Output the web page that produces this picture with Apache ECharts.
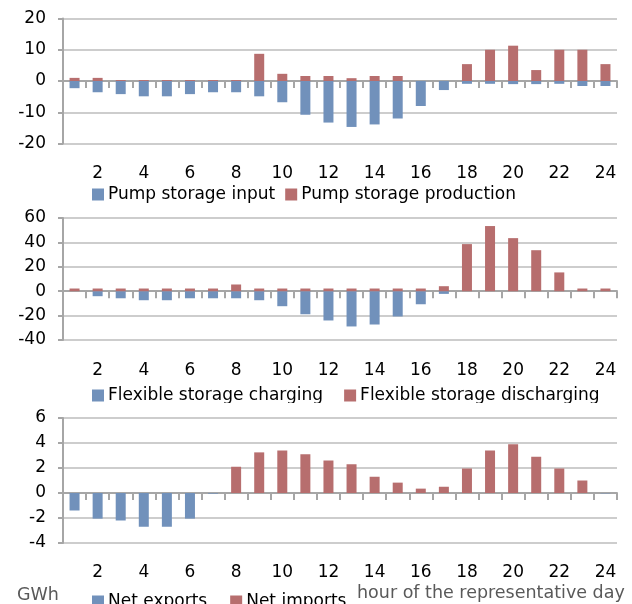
<!DOCTYPE html>
<html>
<head>
<meta charset="utf-8">
<script src="https://cdn.jsdelivr.net/npm/echarts@6/dist/echarts.min.js"></script>
<style>
html,body{margin:0;padding:0;background:#fff;}
#chart{width:632px;height:604px;}
</style>
</head>
<body>
<div id="chart"></div>
<script>
const hours = ['1','2','3','4','5','6','7','8','9','10','11','12','13','14','15','16','17','18','19','20','21','22','23','24'];

const pumpInput = [-2.3,-3.6,-4.2,-4.9,-4.9,-4.2,-3.6,-3.6,-4.9,-6.8,-10.8,-13.3,-14.7,-13.9,-12.0,-8.0,-2.9,-0.9,-0.9,-1.0,-1.0,-0.9,-1.6,-1.6];
const pumpProduction = [1.0,1.0,0.3,0.3,0.3,0.3,0.3,0.3,8.7,2.3,1.6,1.6,0.9,1.6,1.6,0,0,5.4,10.0,11.3,3.5,10.0,10.0,5.4];

const flexCharging = [0,-4.1,-5.8,-7.4,-7.4,-5.8,-5.8,-5.8,-7.4,-12.3,-18.9,-24.0,-28.9,-27.3,-20.7,-10.7,-2.2,0,0,0,0,0,0,0];
const flexDischarging = [2.2,2.2,2.2,2.2,2.2,2.2,2.2,5.5,2.2,2.2,2.2,2.2,2.2,2.2,2.2,2.2,4.1,38.6,53.4,43.5,33.6,15.4,2.2,2.2];

const netExports = [-1.4,-2.05,-2.2,-2.7,-2.7,-2.05,-0.05,0,0,0,0,0,0,0,0,0,0,0,0,0,0,0,0,-0.03];
const netImports = [0,0,0,0,0,0,0,2.1,3.25,3.4,3.1,2.6,2.3,1.3,0.83,0.35,0.5,1.96,3.4,3.9,2.9,1.96,1.0,0];

const seriesNames = [
  ['Pump storage input','Pump storage production'],
  ['Flexible storage charging','Flexible storage discharging'],
  ['Net exports','Net imports']
];
const yRanges = [[-20,20,10],[-40,60,20],[-4,6,2]];
const panelData = [[pumpInput,pumpProduction],[flexCharging,flexDischarging],[netExports,netImports]];

const BLUE = '#7191bb';
const RED = '#b76e6e';
const FONT = 'DejaVu Sans';

const gridPos = [
  {top:18.5, height:125},
  {top:218, height:122},
  {top:418, height:125}
];
const legendTops = [186, 387, 593];
const legendGaps = [10, 21, 23];
const labelMargins = [22, 22, 21];

const grids = [], xAxes = [], yAxes = [], series = [], legends = [];
for (let p = 0; p < 3; p++) {
  grids.push({left:63, right:15, top:gridPos[p].top, height:gridPos[p].height});
  // label axis at bottom
  xAxes.push({
    type:'category', gridIndex:p, data:hours, position:'bottom',
    axisLine:{show:false, onZero:false}, axisTick:{show:false},
    axisLabel:{color:'#000', fontFamily:FONT, fontSize:17, margin:labelMargins[p],
      interval:function(i){return i % 2 === 1;}},
    splitLine:{show:false}
  });
  // zero line axis with ticks
  xAxes.push({
    type:'category', gridIndex:p, data:hours, position:'bottom',
    axisLine:{show:true, onZero:true, lineStyle:{color:'#a6a6a6', width:2}},
    axisTick:{show:true, length:7, lineStyle:{color:'#a6a6a6', width:2}},
    axisLabel:{show:false}, splitLine:{show:false}
  });
  yAxes.push({
    type:'value', gridIndex:p, min:yRanges[p][0], max:yRanges[p][1], interval:yRanges[p][2],
    axisLine:{show:true, lineStyle:{color:'#a6a6a6', width:2}},
    axisTick:{show:true, length:5, lineStyle:{color:'#a6a6a6', width:2}},
    axisLabel:{color:'#000', fontFamily:FONT, fontSize:17, margin:17},
    splitLine:{show:true, lineStyle:{color:'#cdcdcd', width:2}}
  });
  for (let s = 0; s < 2; s++) {
    series.push({
      name:seriesNames[p][s], type:'bar', xAxisIndex:p*2, yAxisIndex:p,
      stack:'st'+p, barWidth:10, data:panelData[p][s],
      itemStyle:{color: s === 0 ? BLUE : RED},
      emphasis:{disabled:true}, animation:false
    });
  }
  legends.push({
    data:seriesNames[p], left:92, top:legendTops[p], itemWidth:12, itemHeight:12,
    itemGap:legendGaps[p], icon:'rect', selectedMode:false,
    textStyle:{color:'#000', fontFamily:FONT, fontSize:17, padding:[0,0,0,-1]},
    padding:0
  });
}

const chart = echarts.init(document.getElementById('chart'), null, {renderer:'canvas'});
chart.setOption({
  animation:false,
  backgroundColor:'#fff',
  grid:grids, xAxis:xAxes, yAxis:yAxes, series:series, legend:legends,
  graphic:[
    {type:'rect', shape:{x:0, y:403, width:632, height:5}, style:{fill:'#fff'}, z:100},
    {type:'text', left:17, top:586, style:{text:'GWh', fill:'#595959', font:'17.5px "DejaVu Sans"'}, z:101},
    {type:'text', left:357, top:584, style:{text:'hour of the representative day', fill:'#595959', font:'17.5px "DejaVu Sans"'}, z:101}
  ]
});
</script>
</body>
</html>
